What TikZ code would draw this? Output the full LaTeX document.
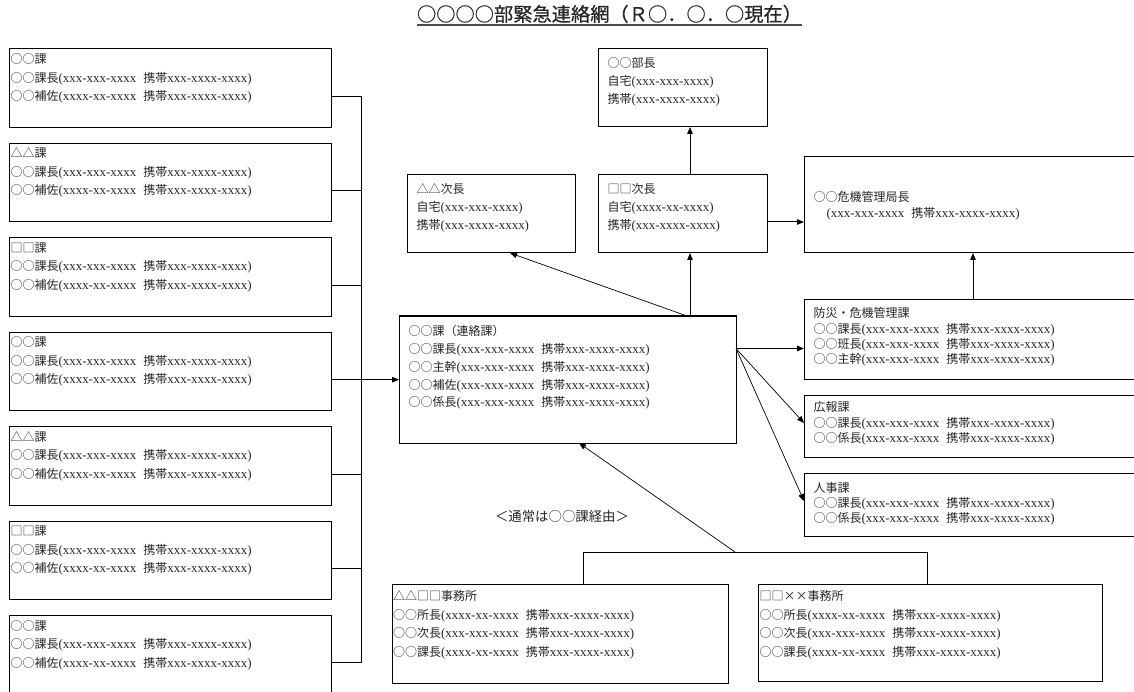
\documentclass[tikz,border=0pt]{standalone}
\usepackage{fontspec}
\setmainfont{Liberation Serif}[Scale=1.08, WordSpace=2.2]
\newfontfamily\jp{Noto Sans CJK JP}
\newfontfamily\jpt{Noto Sans CJK JP}[FakeBold=0.6]
\usetikzlibrary{arrows.meta,calc}
\newcommand\J[1]{{\jp #1}}
\tikzset{
  box/.style={draw=black, line width=1pt, inner sep=0pt, outer sep=0pt, anchor=north west},
  txt/.style={anchor=north west, inner sep=0pt, outer sep=0pt, align=left, text=black!85},
  ln/.style={line width=1pt, black},
  arr/.style={line width=1pt, black, -{Triangle[length=7pt,width=5.5pt]}},
  thinarr/.style={line width=0.7pt, black, -{Triangle[length=7pt,width=5.5pt]}},
  fA/.style={font=\fontsize{12}{18.5}\selectfont},
  fB/.style={font=\fontsize{12}{17.8}\selectfont},
  fC/.style={font=\fontsize{12}{18}\selectfont},
  fD/.style={font=\fontsize{12}{14}\selectfont}
}
\begin{document}
\begin{tikzpicture}[x=1pt,y=-1pt]
\useasboundingbox (0,0) rectangle (1134,692);

% title
\node[inner sep=0pt, anchor=base, text=black!85, font=\fontsize{19.25}{22}\selectfont\jpt] (title) at (609.5,21.3) {○○○○部緊急連絡網（Ｒ○．○．○現在）};
\draw[line width=1.3pt, black!70] ([yshift=-3.7pt]title.base west) -- ([yshift=-3.7pt]title.base east);

% left column
\coordinate (busx) at (361,0);
\foreach \i/\t in {1/○○課,2/△△課,3/□□課,4/○○課,5/△△課,6/□□課,7/○○課}{
  \pgfmathsetmacro\yy{49+94.4*(\i-1)}
  \node[box, minimum width=322pt, minimum height=78.5pt] (L\i) at (9,\yy) {};
  \node[txt, fA] (L\i-t) at ([shift={(1.5,1.65)}]L\i.north west)
    {\strut\J{\t}\\
     \strut\J{○○課長}(xxx-xxx-xxxx \J{携帯}xxx-xxxx-xxxx)\\
     \strut\J{○○補佐}(xxxx-xx-xxxx \J{携帯}xxx-xxxx-xxxx)};
  \coordinate (L\i-o) at ([yshift=-47.5pt]L\i.north east);
  \draw[ln] (L\i-o) -- (L\i-o -| busx);
}
\draw[ln] (L1-o -| busx) -- (L7-o -| busx);

% center box
\node[box, minimum width=337pt, minimum height=127pt] (C) at (399,316) {};
\node[txt, fB] (C-t) at ([shift={(9.5,7.14)}]C.north west)
  {\strut\J{○○課（連絡課）}\\
   \strut\J{○○課長}(xxx-xxx-xxxx \J{携帯}xxx-xxxx-xxxx)\\
   \strut\J{○○主幹}(xxx-xxx-xxxx \J{携帯}xxx-xxxx-xxxx)\\
   \strut\J{○○補佐}(xxx-xxx-xxxx \J{携帯}xxx-xxxx-xxxx)\\
   \strut\J{○○係長}(xxx-xxx-xxxx \J{携帯}xxx-xxxx-xxxx)};
\draw[arr] (L4-o -| busx) -- (L4-o -| C.west);

% top boxes
\node[box, minimum width=169pt, minimum height=78pt] (B) at (598,49) {};
\node[txt, fC] (B-t) at ([shift={(9.5,6)}]B.north west)
  {\strut\J{○○部長}\\
   \strut\J{自宅}(xxx-xxx-xxxx)\\
   \strut\J{携帯}(xxx-xxxx-xxxx)};
\node[box, minimum width=168pt, minimum height=78pt] (D1) at (407,175) {};
\node[txt, fC] (D1-t) at ([shift={(9.5,6.3)}]D1.north west)
  {\strut\J{△△次長}\\
   \strut\J{自宅}(xxx-xxx-xxxx)\\
   \strut\J{携帯}(xxx-xxxx-xxxx)};
\node[box, minimum width=169pt, minimum height=78pt] (D2) at (598,175) {};
\node[txt, fC] (D2-t) at ([shift={(9.5,6.3)}]D2.north west)
  {\strut\J{□□次長}\\
   \strut\J{自宅}(xxxx-xx-xxxx)\\
   \strut\J{携帯}(xxx-xxxx-xxxx)};

% right boxes
\node[box, minimum width=340pt, minimum height=96pt] (K) at (804,157) {};
\node[txt, fD] (K-t) at ([shift={(9.5,34.8)}]K.north west)
  {\strut\J{○○危機管理局長}\\
   \strut\hspace*{13pt}(xxx-xxx-xxxx \J{携帯}xxx-xxxx-xxxx)};
\node[box, minimum width=340pt, minimum height=79pt] (P) at (804,300) {};
\node[txt, fD] (P-t) at ([shift={(9.5,7.8)}]P.north west)
  {\strut\J{防災・危機管理課}\\
   \strut\J{○○課長}(xxx-xxx-xxxx \J{携帯}xxx-xxxx-xxxx)\\
   \strut\J{○○班長}(xxx-xxx-xxxx \J{携帯}xxx-xxxx-xxxx)\\
   \strut\J{○○主幹}(xxx-xxx-xxxx \J{携帯}xxx-xxxx-xxxx)};
\node[box, minimum width=340pt, minimum height=62pt] (H) at (804,395) {};
\node[txt, fD] (H-t) at ([shift={(9.5,6.8)}]H.north west)
  {\strut\J{広報課}\\
   \strut\J{○○課長}(xxx-xxx-xxxx \J{携帯}xxx-xxxx-xxxx)\\
   \strut\J{○○係長}(xxx-xxx-xxxx \J{携帯}xxx-xxxx-xxxx)};
\node[box, minimum width=340pt, minimum height=63pt] (J) at (804,473) {};
\node[txt, fD] (J-t) at ([shift={(9.5,9.3)}]J.north west)
  {\strut\J{人事課}\\
   \strut\J{○○課長}(xxx-xxx-xxxx \J{携帯}xxx-xxxx-xxxx)\\
   \strut\J{○○係長}(xxx-xxx-xxxx \J{携帯}xxx-xxxx-xxxx)};

% bottom boxes
\node[box, minimum width=336pt, minimum height=99pt] (BL) at (392,584) {};
\node[txt, fA] (BL-t) at ([shift={(1,3.65)}]BL.north west)
  {\strut\J{△△□□事務所}\\
   \strut\J{○○所長}(xxxx-xx-xxxx \J{携帯}xxx-xxxx-xxxx)\\
   \strut\J{○○次長}(xxx-xxx-xxxx \J{携帯}xxx-xxxx-xxxx)\\
   \strut\J{○○課長}(xxxx-xx-xxxx \J{携帯}xxx-xxxx-xxxx)};
\node[box, minimum width=344pt, minimum height=97pt] (BR) at (758,584) {};
\node[txt, fA] (BR-t) at ([shift={(1.5,3.65)}]BR.north west)
  {\strut\J{□□××事務所}\\
   \strut\J{○○所長}(xxxx-xx-xxxx \J{携帯}xxx-xxxx-xxxx)\\
   \strut\J{○○次長}(xxx-xxx-xxxx \J{携帯}xxx-xxxx-xxxx)\\
   \strut\J{○○課長}(xxxx-xx-xxxx \J{携帯}xxx-xxxx-xxxx)};

% note
\node[inner sep=0pt, anchor=base, text=black!85, font=\fontsize{13.4}{16}\selectfont\jp] (note) at (562,521.6) {＜通常は○○課経由＞};

% connectors
\coordinate (cup) at ([xshift=291pt]C.north west);
\draw[arr] (cup) -- (cup |- D2.south);
\draw[thinarr] ([xshift=-3pt]cup) -- ([xshift=103pt]D1.south west);
\draw[arr] (D2.north -| cup) -- (B.south -| cup);
\coordinate (d2o) at ([yshift=-47pt]D2.north east);
\draw[arr] (d2o) -- (d2o -| K.west);
\coordinate (pup) at ([xshift=169pt]P.north west);
\draw[arr] (pup) -- (pup |- K.south);
\coordinate (cr) at ([yshift=-32.5pt]C.north east);
\draw[arr] (cr) -- (cr -| P.west);
\draw[thinarr] (cr) -- ([yshift=-28pt]H.north west);
\draw[thinarr] (cr) -- ([yshift=-28pt]J.north west);
\coordinate (barL) at ([xshift=191pt]BL.north west);
\coordinate (barR) at ([xshift=169pt]BR.north west);
\draw[ln] (barL) -- ([yshift=32pt]barL) -- ([yshift=32pt]barR) -- (barR);
\coordinate (barmid) at ([xshift=152pt,yshift=32pt]barL);
\draw[thinarr] (barmid) -- ([xshift=180pt]C.south west);
\end{tikzpicture}
\end{document}
